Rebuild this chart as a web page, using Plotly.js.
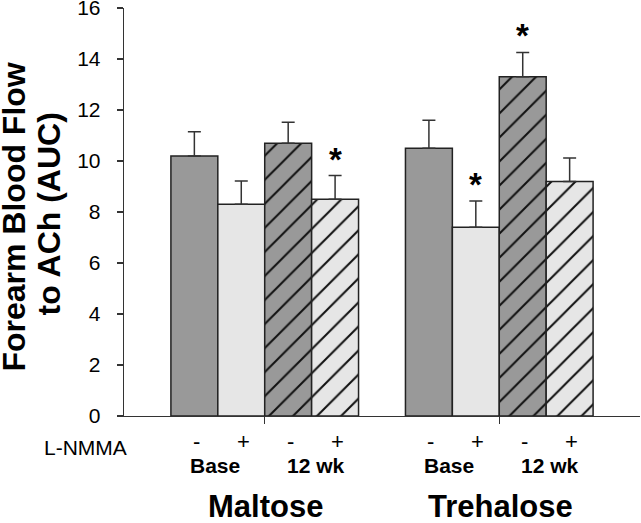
<!DOCTYPE html>
<html>
<head>
<meta charset="utf-8">
<script src="https://cdn.plot.ly/plotly-3.0.1.min.js"></script>
<style>html,body{margin:0;padding:0;background:#fff;}#chart{width:641px;height:523px;}</style>
</head>
<body>
<div id="chart"></div>
<script>
// ---- data ----
var groups = ["Maltose", "Trehalose"];
var seriesNames = ["Base -", "Base +", "12 wk -", "12 wk +"];
var baseMinus = [10.2, 10.5];
var basePlus = [8.3, 7.4];
var wk12Minus = [10.7, 13.3];
var wk12Plus = [8.5, 9.2];
var errBaseMinus = [0.95, 1.1];
var errBasePlus = [0.92, 1.03];
var errWk12Minus = [0.82, 0.96];
var errWk12Plus = [0.93, 0.92];
var sigBaseMinus = [false, false];
var sigBasePlus = [false, true];
var sigWk12Minus = [false, true];
var sigWk12Plus = [true, false];
var lnmmaLabels = ["-", "+", "-", "+"];
var timeLabels = ["Base", "12 wk"];
var yTickVals = [0, 2, 4, 6, 8, 10, 12, 14, 16];
var yTickText = ["0", "2", "4", "6", "8", "10", "12", "14", "16"];

// ---- styling ----
var FONT = "Liberation Sans, Arial, sans-serif";
var dark = "#999999", light = "#e6e6e6";
var values = [baseMinus, basePlus, wk12Minus, wk12Plus];
var errs = [errBaseMinus, errBasePlus, errWk12Minus, errWk12Plus];
var sigs = [sigBaseMinus, sigBasePlus, sigWk12Minus, sigWk12Plus];
var colors = [dark, light, dark, light];
var hatched = [false, false, true, true];
var offsets = [-0.3, -0.1, 0.1, 0.3];

var traces = values.map(function (v, i) {
  var marker = {color: colors[i], line: {color: "#222", width: 1.5}};
  if (hatched[i]) {
    marker.pattern = {shape: "/", fgcolor: "#111", bgcolor: colors[i], size: 17, solidity: 0.12, fillmode: "replace"};
  }
  return {
    type: "bar", x: [0, 1], y: v, name: seriesNames[i], marker: marker,
    error_y: {type: "data", symmetric: false, array: errs[i], arrayminus: v.map(function(){return 0;}),
              color: "#333", thickness: 1.5, width: 6.5},
    hoverinfo: "y"
  };
});

var ann = [];
var txt = "#000";
// asterisks
sigs.forEach(function (s, i) {
  s.forEach(function (flag, g) {
    if (flag) ann.push({xref: "x", yref: "y", x: g + offsets[i], y: values[i][g] + errs[i][g],
      text: "<b>*</b>", showarrow: false, yanchor: "bottom", yshift: -4,
      font: {family: FONT, size: 33, color: txt}});
  });
});
// plus/minus and time labels
groups.forEach(function (gname, g) {
  lnmmaLabels.forEach(function (l, i) {
    ann.push({xref: "x", yref: "paper", x: g + offsets[i], y: -0.0613, yanchor: "middle", xshift: 2,
      text: l, showarrow: false, font: {family: FONT, size: 22, color: txt}});
  });
  timeLabels.forEach(function (t, k) {
    ann.push({xref: "x", yref: "paper", x: g + (k === 0 ? -0.2 : 0.2), y: -0.1201, yanchor: "middle",
      xshift: (k === 0 ? -3 : 4),
      text: "<b>" + t + "</b>", showarrow: false, font: {family: FONT, size: 21, color: txt}});
  });
  ann.push({xref: "x", yref: "paper", x: g, y: -0.2226, yanchor: "middle", xshift: 1,
    text: "<b>" + gname + "</b>", showarrow: false, font: {family: FONT, size: 31, color: txt}});
});
ann.push({xref: "paper", yref: "paper", x: -0.0742, y: -0.0760, xanchor: "center", yanchor: "middle",
  text: "L-NMMA", showarrow: false, font: {family: FONT, size: 21, color: txt}});
// y axis title lines
ann.push({xref: "paper", yref: "paper", x: -0.2140, y: 0.4877, xanchor: "center", yanchor: "middle", textangle: -90,
  text: "<b>Forearm Blood Flow</b>", showarrow: false, font: {family: FONT, size: 32, color: txt}});
ann.push({xref: "paper", yref: "paper", x: -0.1464, y: 0.4953, xanchor: "center", yanchor: "middle", textangle: -90,
  text: "<b>to ACh (AUC)</b>", showarrow: false, font: {family: FONT, size: 32, color: txt}});

var layout = {
  width: 641, height: 523,
  margin: {l: 124, r: 1, t: 8, b: 107},
  paper_bgcolor: "#fff", plot_bgcolor: "#fff",
  showlegend: false,
  barmode: "group", bargap: 0.2, bargroupgap: 0,
  font: {family: FONT, color: "#000"},
  xaxis: {range: [-0.6, 1.6], showticklabels: false, ticks: "outside", ticklen: 7, tickwidth: 1.3, tickcolor: "#333",
          tickvals: [0, 1], showline: true, linecolor: "#333", linewidth: 1.3, showgrid: false, zeroline: false, fixedrange: true},
  yaxis: {range: [0, 16.001], tickmode: "array", tickvals: yTickVals, ticktext: yTickText,
          ticks: "outside", ticklen: 6, tickwidth: 1.3, tickcolor: "#333",
          showline: true, linecolor: "#333", linewidth: 1.3, showgrid: false, zeroline: false,
          ticklabeloverflow: "allow", ticklabelstandoff: 12, tickfont: {family: FONT, size: 21, color: "#000"}, fixedrange: true},
  annotations: ann
};

Plotly.newPlot("chart", traces, layout, {displayModeBar: false, staticPlot: true});
</script>
</body>
</html>
